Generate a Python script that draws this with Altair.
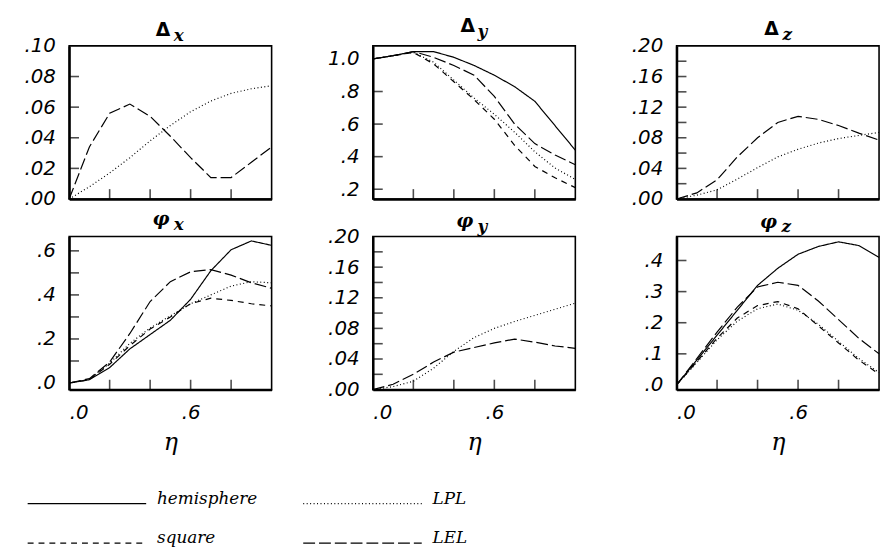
import altair as alt
import pandas as pd

# ---- data -------------------------------------------------------------
eta = [0.0, 0.1, 0.2, 0.3, 0.4, 0.5, 0.6, 0.7, 0.8, 0.9, 1.0]

series_names = ["hemisphere", "LPL", "square", "LEL"]
series_dash = [[1, 0], [1, 2.5], [6, 5], [12, 4]]

delta_x = {
    "LPL": [0, 0.008, 0.017, 0.027, 0.038, 0.048, 0.057, 0.064, 0.069, 0.072, 0.074],
    "LEL": [0, 0.034, 0.056, 0.062, 0.054, 0.041, 0.027, 0.014, 0.014, 0.024, 0.034],
}
delta_y = {
    "hemisphere": [1.0, 1.02, 1.045, 1.045, 1.01, 0.96, 0.90, 0.83, 0.74, 0.59, 0.44],
    "LEL": [1.0, 1.02, 1.045, 1.01, 0.96, 0.90, 0.77, 0.60, 0.48, 0.41, 0.35],
    "LPL": [1.0, 1.02, 1.04, 0.98, 0.87, 0.76, 0.66, 0.55, 0.43, 0.33, 0.26],
    "square": [1.0, 1.02, 1.04, 0.97, 0.86, 0.75, 0.63, 0.47, 0.34, 0.27, 0.21],
}
delta_z = {
    "LEL": [0, 0.008, 0.025, 0.055, 0.080, 0.100, 0.108, 0.104, 0.096, 0.086, 0.077],
    "LPL": [0, 0.005, 0.012, 0.026, 0.041, 0.055, 0.065, 0.073, 0.079, 0.083, 0.087],
}
phi_x = {
    "hemisphere": [0, 0.015, 0.07, 0.155, 0.22, 0.285, 0.38, 0.51, 0.605, 0.645, 0.625],
    "LEL": [0, 0.02, 0.095, 0.225, 0.37, 0.46, 0.505, 0.515, 0.49, 0.455, 0.43],
    "square": [0, 0.015, 0.085, 0.17, 0.245, 0.30, 0.36, 0.385, 0.375, 0.36, 0.35],
    "LPL": [0, 0.017, 0.09, 0.18, 0.25, 0.305, 0.36, 0.40, 0.44, 0.46, 0.455],
}
phi_y = {
    "LEL": [0, 0.007, 0.02, 0.036, 0.049, 0.055, 0.061, 0.066, 0.062, 0.057, 0.054],
    "LPL": [0, 0.004, 0.011, 0.028, 0.050, 0.068, 0.080, 0.089, 0.097, 0.105, 0.113],
}
phi_z = {
    "hemisphere": [0, 0.08, 0.16, 0.24, 0.32, 0.375, 0.42, 0.445, 0.46, 0.448, 0.41],
    "LEL": [0, 0.085, 0.17, 0.25, 0.315, 0.33, 0.32, 0.27, 0.21, 0.15, 0.10],
    "square": [0, 0.075, 0.15, 0.215, 0.255, 0.268, 0.245, 0.19, 0.135, 0.08, 0.035],
    "LPL": [0, 0.072, 0.145, 0.205, 0.245, 0.26, 0.24, 0.195, 0.14, 0.085, 0.04],
}

# axis label values / texts and inner tick positions
x_label_vals = [0.0, 0.6]
x_label_text = [".0", ".6"]
x_tick_vals = [0.2, 0.4, 0.6, 0.8]

small_vals = [0.0, 0.04, 0.08, 0.12, 0.16, 0.20]
small_text = [".00", ".04", ".08", ".12", ".16", ".20"]
small_ticks = [0.02, 0.04, 0.06, 0.08, 0.10, 0.12, 0.14, 0.16, 0.18]

dx_vals = [0.0, 0.02, 0.04, 0.06, 0.08, 0.10]
dx_text = [".00", ".02", ".04", ".06", ".08", ".10"]
dx_ticks = [0.02, 0.04, 0.06, 0.08]

dy_vals = [0.2, 0.4, 0.6, 0.8, 1.0]
dy_text = [".2", ".4", ".6", ".8", "1.0"]
dy_ticks = [0.2, 0.4, 0.6, 0.8]

px_vals = [0.0, 0.2, 0.4, 0.6]
px_text = [".0", ".2", ".4", ".6"]
px_ticks = [0.1, 0.2, 0.3, 0.4, 0.5, 0.6]

pz_vals = [0.0, 0.1, 0.2, 0.3, 0.4]
pz_text = [".0", ".1", ".2", ".3", ".4"]
pz_ticks = [0.1, 0.2, 0.3, 0.4]

# ---- helpers ------------------------------------------------------------
W, H = 205, 155
TICK = 10
TICK_FONT = "DejaVu Sans"
MATH_FONT = "DejaVu Serif"


def label_expr(vals, texts):
    expr = "''"
    for v, t in reversed(list(zip(vals, texts))):
        expr = f"abs(datum.value - {v}) < 1e-9 ? '{t}' : ({expr})"
    return expr


def long_frame(curves):
    rows = []
    for name, vals in curves.items():
        for e, v in zip(eta, vals):
            rows.append({"eta": e, "value": v, "series": name})
    return pd.DataFrame(rows)


dash_scale = alt.Scale(domain=series_names, range=series_dash)
dash_legend = alt.Legend(
    title=None,
    orient="none",
    legendX=-43,
    legendY=451,
    columns=2,
    direction="horizontal",
    symbolType="stroke",
    symbolSize=14400,
    symbolStrokeWidth=1.3,
    symbolStrokeColor="black",
    clipHeight=25,
    labelFont=MATH_FONT,
    labelFontStyle="italic",
    labelFontSize=17,
    labelColor="black",
    labelOffset=10,
    labelBaseline="alphabetic",
    columnPadding=45,
    rowPadding=13,
    padding=0,
)


def glyph(text, x, y, size, font, style, weight):
    return alt.Chart(pd.DataFrame({"t": [text]})).mark_text(
        font=font, fontSize=size, fontStyle=style, fontWeight=weight,
        align="center", baseline="middle", color="black",
    ).encode(text="t:N", x=alt.value(x), y=alt.value(y))


def panel(curves, ydomain, yvals, ytext, yticks, bottom, sym, sub, pos):
    xs = alt.Scale(domain=[0, 1], nice=False, zero=False)
    ys = alt.Scale(domain=ydomain, nice=False, zero=False)
    if bottom:
        xaxis = alt.Axis(values=x_label_vals, labelExpr=label_expr(x_label_vals, x_label_text),
                         title="η", labelPadding=13, titlePadding=9,
                         titleFont=MATH_FONT, titleFontStyle="italic",
                         titleFontWeight="normal", titleFontSize=24, titleColor="black")
    else:
        xaxis = alt.Axis(labels=False, title=None)
    yaxis = alt.Axis(values=yvals, labelExpr=label_expr(yvals, ytext), title=None, labelPadding=14)

    x_enc = alt.X("eta:Q", scale=xs, axis=xaxis)
    y_enc = alt.Y("value:Q", scale=ys, axis=yaxis)

    lines = alt.Chart(long_frame(curves)).mark_line(color="black", strokeWidth=1.2).encode(
        x=x_enc, y=y_enc,
        strokeDash=alt.StrokeDash("series:N", scale=dash_scale, legend=dash_legend),
    )
    # inward ticks along the left and bottom edges
    yt = alt.Chart(pd.DataFrame({"value": yticks})).mark_tick(
        color="black", thickness=1.6, size=TICK
    ).encode(y=y_enc, x=alt.value(TICK / 2))
    xt = alt.Chart(pd.DataFrame({"eta": x_tick_vals})).mark_tick(
        color="black", thickness=1.6, size=TICK
    ).encode(x=x_enc, y=alt.value(H - TICK / 2))
    sx, sy, bx, by = pos
    head_font = "DejaVu Sans" if sym == "Δ" else MATH_FONT
    head_style = "normal" if sym == "Δ" else "italic"
    t1 = glyph(sym, sx, sy, 19, head_font, head_style, "bold")
    t2 = glyph(sub, bx, by, 17, MATH_FONT, "italic", "bold")
    return alt.layer(lines, yt, xt, t1, t2).properties(width=W, height=H)


p1 = panel(delta_x, [0, 0.10], dx_vals, dx_text, dx_ticks, False, "Δ", "x", (95, -16, 111, -10))
p2 = panel(delta_y, [0.14, 1.08], dy_vals, dy_text, dy_ticks, False, "Δ", "y", (96, -20, 111, -14))
p3 = panel(delta_z, [0, 0.20], small_vals, small_text, small_ticks, False, "Δ", "z", (96, -17, 112, -11))
p4 = panel(phi_x, [-0.03, 0.665], px_vals, px_text, px_ticks, True, "φ", "x", (93, -18, 111, -12))
p5 = panel(phi_y, [0, 0.20], small_vals, small_text, small_ticks, True, "φ", "y", (93, -16, 111, -10))
p6 = panel(phi_z, [-0.015, 0.477], pz_vals, pz_text, pz_ticks, True, "φ", "z", (93, -15, 111, -10))

chart = alt.concat(
    p1, p2, p3, p4, p5, p6, columns=3, spacing={"row": 38, "column": 102.5}, bounds="flush"
).resolve_scale(
    strokeDash="shared"
).configure_view(
    stroke="black", strokeWidth=1.6
).configure_axis(
    grid=False, tickSize=0, ticks=False,
    domainColor="black", domainWidth=2.4,
    labelFont=TICK_FONT, labelFontStyle="italic", labelFontSize=20,
    labelColor="black",
).properties(
    padding={"left": 23, "top": 13, "right": 0, "bottom": 0},
    background="white",
)

chart.save("out.html", embed_options={"renderer": "svg", "actions": False})
